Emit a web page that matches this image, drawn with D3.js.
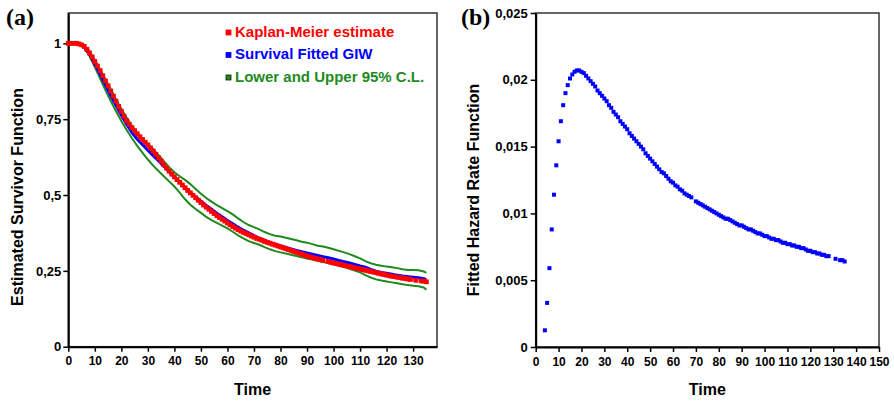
<!DOCTYPE html>
<html>
<head>
<meta charset="utf-8">
<script src="https://cdn.jsdelivr.net/npm/d3@7"></script>
<style>
  body { margin: 0; background: #fff; }
  svg { display: block; }
  text { font-family: "Liberation Sans", Arial, sans-serif; font-weight: bold; }
</style>
</head>
<body>
<svg id="chart" width="894" height="401"></svg>
<script>
// ---- Panel (a): survivor function ----
// Kaplan-Meier estimate at observed times
const kmTime = [0,1,2,3,4,5,6,7,8,9,10,11,12,13,14,15,16,17,18,19,20,21,22,23,24,25,26,27,28,29,30,
  31,32,33,34,35,36,37,38,39,40,41,42,43,44,45,46,47,48,49,50,51,52,53,54,55,56,57,58,59,60,
  61,62,63,64,65,66,67,68,69,70,71,72,73,74,75,76,77,78,79,80,81,82,83,84,85,86,87,88,89,90,
  91,92,93,94,95,96,98,99,100,101,102,103,104,105,106,107,108,109,110,111,112,113,114,115,116,
  117,118,119,120,121,122,123,124,125,126,127,128,129,131,133,134,135];
const kmSurv = [1.000,1.000,1.000,1.000,0.998,0.995,0.990,0.980,0.968,0.955,0.940,0.925,0.910,0.893,0.876,0.860,
  0.843,0.826,0.809,0.792,0.776,0.760,0.745,0.733,0.722,0.712,0.702,0.692,0.683,0.674,0.665,
  0.655,0.645,0.634,0.623,0.612,0.600,0.589,0.579,0.569,0.560,0.551,0.542,0.533,0.524,0.515,
  0.507,0.499,0.491,0.483,0.475,0.467,0.460,0.453,0.446,0.439,0.432,0.426,0.420,0.414,0.408,
  0.402,0.396,0.391,0.386,0.381,0.377,0.373,0.369,0.365,0.361,0.357,0.354,0.351,0.347,0.344,
  0.341,0.338,0.335,0.332,0.329,0.326,0.323,0.320,0.317,0.314,0.311,0.308,0.305,0.302,0.299,
  0.296,0.294,0.291,0.289,0.287,0.285,0.281,0.278,0.276,0.274,0.272,0.270,0.268,0.266,0.264,
  0.262,0.260,0.258,0.256,0.254,0.252,0.250,0.248,0.246,0.244,0.242,0.240,0.238,0.236,0.234,
  0.232,0.231,0.229,0.228,0.226,0.225,0.223,0.222,0.219,0.217,0.216,0.214];

// Fitted GIW survival
const fitTime = [0,2,4,6,8,10,12,14,16,18,20,22,24,26,28,30,32,34,36,38,40,42,44,46,48,50,52,54,56,58,60,
  62,64,66,68,70,72,74,76,78,80,82,84,86,88,90,92,94,96,98,100,102,104,106,108,110,112,114,116,118,120,
  122,124,126,128,130,132,134,135];
const fitSurv = [1.000,1.000,0.999,0.988,0.965,0.932,0.898,0.862,0.828,0.795,0.763,0.733,0.706,0.684,0.666,0.648,
  0.630,0.613,0.595,0.577,0.559,0.542,0.525,0.509,0.494,0.480,0.466,0.453,0.440,0.428,0.416,
  0.405,0.394,0.384,0.375,0.366,0.358,0.351,0.344,0.338,0.332,0.327,0.322,0.317,0.313,0.309,
  0.305,0.301,0.297,0.293,0.289,0.284,0.280,0.276,0.271,0.266,0.262,0.255,0.249,0.245,0.242,
  0.239,0.236,0.233,0.231,0.229,0.227,0.224,0.222];

// Lower and upper 95% confidence limits
const clTime = [0,2,4,6,8,10,12,14,16,18,20,22,24,26,28,30,32,34,36,38,40,42,44,46,48,50,52,54,56,58,60,
  62,64,66,68,70,72,74,76,78,80,82,84,86,88,90,92,94,96,98,100,102,104,106,108,110,112,114,116,118,120,
  122,124,126,128,130,132,134,135];
const clLower = [1.000,1.000,0.998,0.985,0.958,0.922,0.884,0.846,0.810,0.776,0.744,0.714,0.687,0.662,0.639,0.617,
  0.597,0.579,0.562,0.545,0.528,0.508,0.486,0.468,0.454,0.441,0.428,0.417,0.408,0.399,0.390,
  0.379,0.367,0.357,0.348,0.342,0.336,0.328,0.321,0.315,0.311,0.307,0.303,0.299,0.295,0.291,
  0.287,0.283,0.279,0.276,0.272,0.268,0.263,0.257,0.251,0.245,0.236,0.228,0.222,0.218,0.215,
  0.212,0.209,0.206,0.203,0.201,0.199,0.195,0.188];
const clUpper = [1.000,1.000,1.000,0.993,0.975,0.945,0.915,0.882,0.849,0.816,0.784,0.755,0.728,0.706,0.686,0.669,
  0.651,0.632,0.612,0.592,0.575,0.562,0.550,0.536,0.520,0.504,0.490,0.478,0.467,0.457,0.447,
  0.436,0.423,0.411,0.401,0.394,0.387,0.378,0.371,0.366,0.363,0.359,0.355,0.351,0.346,0.343,
  0.338,0.333,0.330,0.326,0.321,0.316,0.311,0.305,0.298,0.291,0.282,0.275,0.270,0.267,0.264,
  0.262,0.259,0.255,0.253,0.253,0.252,0.248,0.243];

// ---- Panel (b): fitted hazard rate ----
const hazTime = [4,5,6,7,8,9,10,11,12,13,14,15,16,17,18,19,20,21,22,23,24,25,26,27,28,29,30,
  31,32,33,34,35,36,37,38,39,40,41,42,43,44,45,46,47,48,49,50,51,52,53,54,55,56,57,58,59,60,
  61,62,63,64,65,66,67,68,70,71,72,73,74,75,76,77,78,79,80,81,82,83,84,85,86,87,88,89,90,
  91,92,93,94,95,96,97,98,99,100,101,102,103,104,105,106,107,108,109,110,111,112,113,114,115,
  116,117,118,119,120,121,122,123,124,125,126,127,128,131,133,134,135];
const hazRate = [0.00125,0.0033,0.0059,0.0088,0.0114,0.0136,0.0154,0.0169,0.0181,0.0190,0.0196,0.0201,0.0204,
  0.0206,0.0207,0.0207,0.0206,0.0205,0.0203,0.0201,0.0199,0.0197,0.0195,0.0192,0.0190,0.0188,0.0186,
  0.0184,0.0181,0.0179,0.0176,0.0174,0.0172,0.0169,0.0167,0.0165,0.0163,0.0160,0.0158,0.0156,0.0154,
  0.0152,0.0150,0.0148,0.0145,0.0143,0.0141,0.0139,0.0137,0.0135,0.0133,0.0131,0.0130,0.0128,0.0126,
  0.0124,0.0123,0.0121,0.0120,0.0118,0.0117,0.0115,0.0114,0.0113,0.0112,0.0109,0.0108,0.0107,0.0106,
  0.0105,0.0104,0.0103,0.0102,0.0101,0.0100,0.0099,0.0098,0.0097,0.0096,0.0096,0.0095,0.0094,0.0093,
  0.0092,0.0091,0.0091,0.0090,0.0089,0.0088,0.0088,0.0087,0.0086,0.0085,0.0085,0.0084,0.0083,0.0083,
  0.0082,0.0081,0.0081,0.0080,0.0080,0.0079,0.0078,0.0078,0.0077,0.0077,0.0076,0.0076,0.0075,0.0075,
  0.0074,0.0074,0.0073,0.0072,0.0072,0.0071,0.0071,0.0070,0.0070,0.0069,0.0069,0.0068,0.0068,0.0066,
  0.0065,0.0065,0.0064];

// Axis ticks
const survXTicks = d3.range(0, 131, 10);
const survYTicks = [0, 0.25, 0.5, 0.75, 1];
const hazXTicks = d3.range(0, 151, 10);
const hazYTicks = [0, 0.005, 0.01, 0.015, 0.02, 0.025];

const legendItems = [
  { label: "Kaplan-Meier estimate", color: "#ff0000", border: "#ff0000" },
  { label: "Survival Fitted GIW", color: "#0000ff", border: "#0000ff" },
  { label: "Lower and Upper 95% C.L.", color: "#1e8a1e", border: "#111" }
];

const RED = "#ff0000", BLUE = "#0000ff", GREEN = "#1e8a1e";
const commaFmt = d3.formatLocale({ decimal: ",", thousands: ".", grouping: [3], currency: ["", ""] });
const fmtTick = v => v === 0 ? "0" : commaFmt.format("~g")(v);

const svg = d3.select("#chart");

function drawFrame(g, x, y, xTicks, yTicks, yPad) {
  const [x0, x1] = x.range();
  const [y1, y0] = y.range();
  g.append("rect")
    .attr("x", x0).attr("y", y0)
    .attr("width", x1 - x0).attr("height", y1 - y0)
    .attr("fill", "none").attr("stroke", "#333").attr("stroke-width", 1.5);

  const xa = g.append("g").attr("transform", `translate(0,${y1})`)
    .call(d3.axisBottom(x).tickValues(xTicks).tickSize(5).tickSizeOuter(0).tickPadding(5).tickFormat(d3.format("d")));
  const ya = g.append("g").attr("transform", `translate(${x0},0)`)
    .call(d3.axisLeft(y).tickValues(yTicks).tickSize(5).tickSizeOuter(0).tickPadding(yPad).tickFormat(fmtTick));
  [xa, ya].forEach(a => {
    a.select(".domain").attr("stroke", "#000").attr("stroke-width", 2);
    a.selectAll(".tick line").attr("stroke", "#000").attr("stroke-width", 1.5);
    a.selectAll(".tick text").attr("fill", "#000")
      .style("font-family", '"Liberation Sans", Arial, sans-serif').style("font-weight", "bold");
  });
  xa.selectAll(".tick text").style("font-size", "12px");
  ya.selectAll(".tick text").style("font-size", "13px");
}

// ----- Panel (a) -----
{
  const x = d3.scaleLinear().domain([0, 139]).range([68.3, 437]);
  const y = d3.scaleLinear().domain([0, 1.1]).range([346.7, 13]);
  const g = svg.append("g");
  drawFrame(g, x, y, survXTicks, survYTicks, 2);

  const lineFit = d3.line().x((d, i) => x(fitTime[i])).y(d => y(d));
  const lineCL = d3.line().x((d, i) => x(clTime[i])).y(d => y(d));

  g.append("path").attr("d", lineCL(clLower)).attr("fill", "none").attr("stroke", GREEN).attr("stroke-width", 2);
  g.append("path").attr("d", lineCL(clUpper)).attr("fill", "none").attr("stroke", GREEN).attr("stroke-width", 2);
  g.append("path").attr("d", lineFit(fitSurv)).attr("fill", "none").attr("stroke", BLUE).attr("stroke-width", 3);

  g.append("g").selectAll("rect").data(kmSurv).join("rect")
    .attr("x", (d, i) => x(kmTime[i]) - 2.4)
    .attr("y", d => y(d) - 2.4)
    .attr("width", 4.8).attr("height", 4.8)
    .attr("fill", RED);

  // legend
  const lg = g.append("g");
  legendItems.forEach((it, i) => {
    const ly = 36.5 + i * 22.5;
    lg.append("rect").attr("x", 226).attr("y", ly - 6.5).attr("width", 5).attr("height", 5)
      .attr("fill", it.color).attr("stroke", it.border).attr("stroke-width", 0.8);
    lg.append("text").attr("x", 235).attr("y", ly).attr("fill", it.color)
      .style("font-size", "15px").text(it.label);
  });

  g.append("text").attr("x", (68.3 + 437) / 2).attr("y", 395).attr("text-anchor", "middle")
    .style("font-size", "16px").text("Time");
  g.append("text").attr("transform", "translate(23,197) rotate(-90)").attr("text-anchor", "middle")
    .style("font-size", "16px").text("Estimated Survivor Function");
  g.append("text").attr("x", 6).attr("y", 25)
    .style("font-family", '"Liberation Serif", "Times New Roman", serif').style("font-size", "24px").text("(a)");
}

// ----- Panel (b) -----
{
  const x = d3.scaleLinear().domain([0, 150]).range([535.7, 879]);
  const y = d3.scaleLinear().domain([0, 0.025]).range([347, 13]);
  const g = svg.append("g");
  drawFrame(g, x, y, hazXTicks, hazYTicks, 3);

  g.append("g").selectAll("rect").data(hazRate).join("rect")
    .attr("x", (d, i) => x(hazTime[i]) - 2)
    .attr("y", d => y(d) - 2)
    .attr("width", 4).attr("height", 4)
    .attr("fill", BLUE);

  g.append("text").attr("x", (535.7 + 879) / 2).attr("y", 395).attr("text-anchor", "middle")
    .style("font-size", "16px").text("Time");
  g.append("text").attr("transform", "translate(479,190) rotate(-90)").attr("text-anchor", "middle")
    .style("font-size", "16px").text("Fitted Hazard Rate Function");
  g.append("text").attr("x", 461).attr("y", 25)
    .style("font-family", '"Liberation Serif", "Times New Roman", serif').style("font-size", "24px").text("(b)");
}
</script>
</body>
</html>
